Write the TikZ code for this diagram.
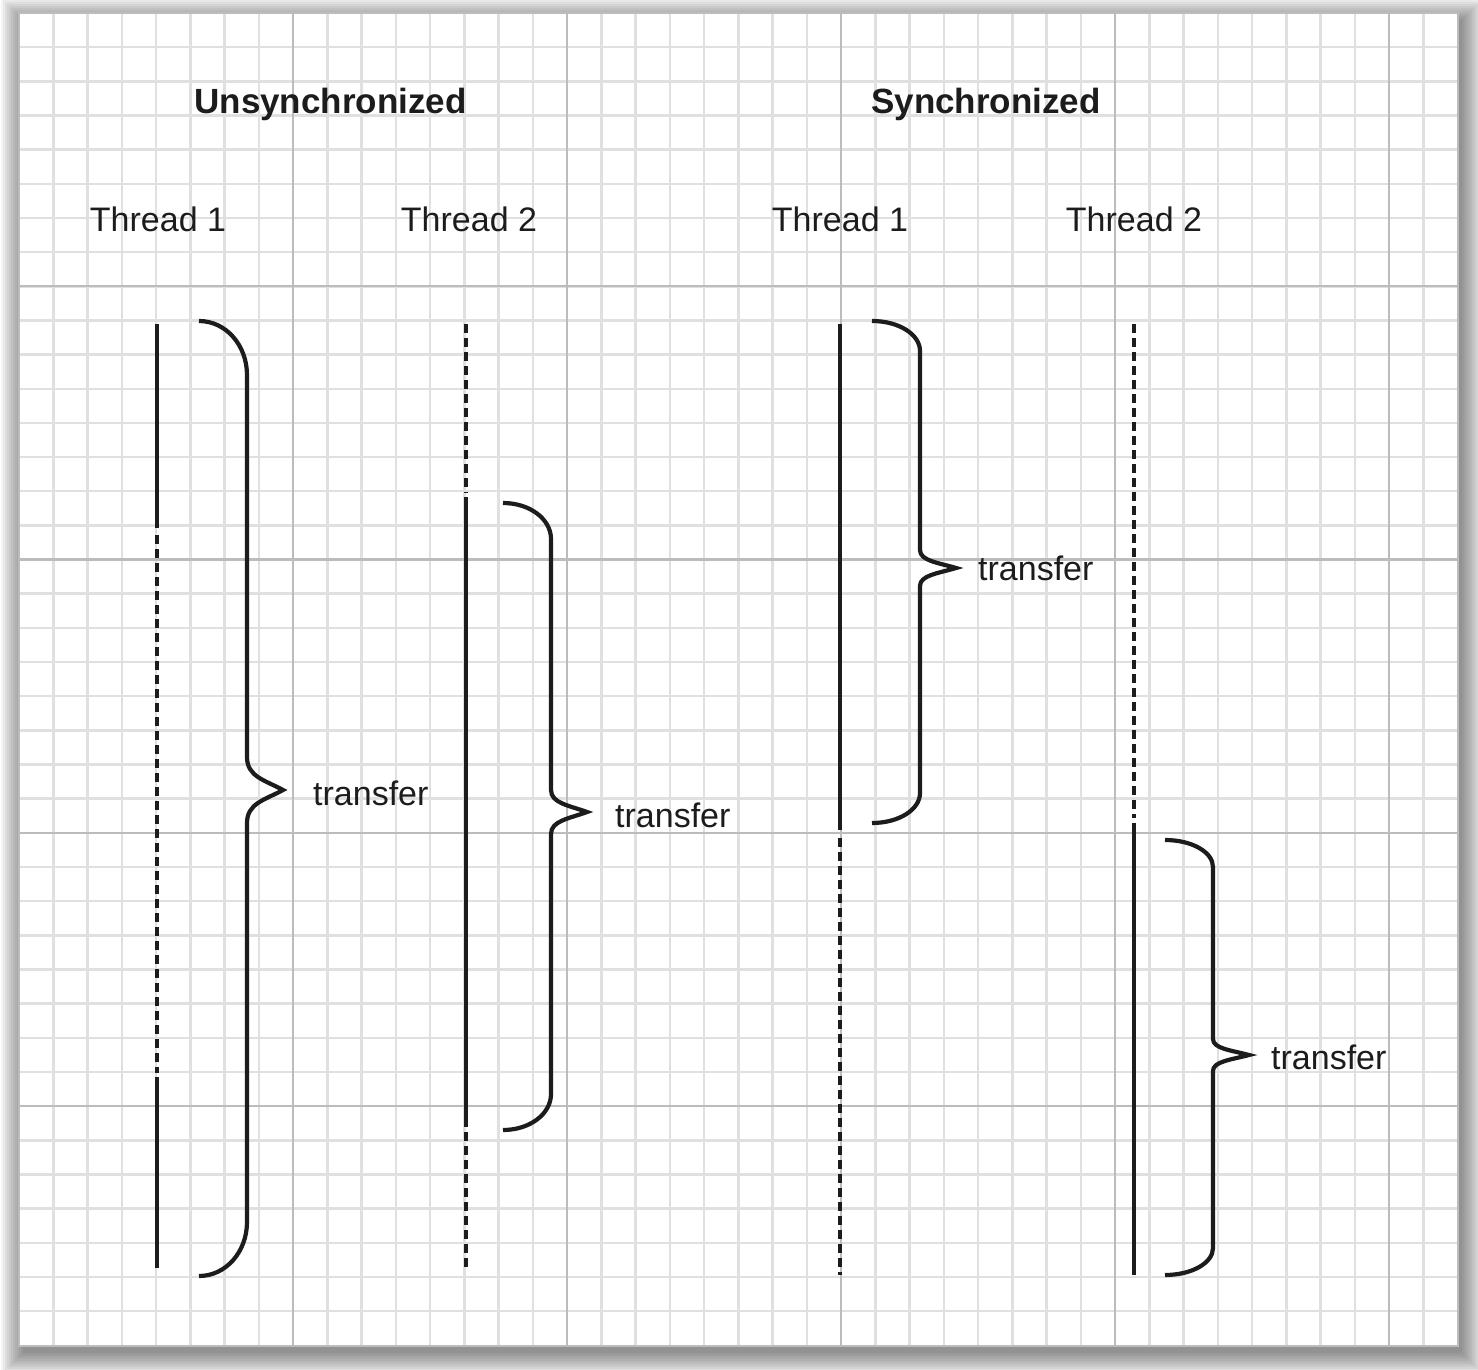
\documentclass[tikz,border=0pt]{standalone}
\usepackage{fontspec}
\setmainfont{Liberation Sans}
\definecolor{ink}{HTML}{1C1C1C}
\definecolor{minorgrid}{HTML}{E0E0E0}
\definecolor{majorgrid}{HTML}{BCBCBC}
\newcommand{\tbrace}[6]{%
  \draw[bracestyle] (#1,#2) .. controls ({#1+27},#2) and ({#1+48},{#2+0.45*#5}) .. ({#1+48},{#2+#5})
    -- ({#1+48},{#4-#6}) .. controls ({#1+48},{#4-0.4*#6}) and ({#1+66},{#4-0.3*#6}) .. ({#1+84},#4)
    .. controls ({#1+66},{#4+0.3*#6}) and ({#1+48},{#4+0.4*#6}) .. ({#1+48},{#4+#6})
    -- ({#1+48},{#3-#5}) .. controls ({#1+48},{#3-0.45*#5}) and ({#1+27},#3) .. (#1,#3);}
\begin{document}
\begin{tikzpicture}[x=1pt,y=-1pt,
  minorline/.style={draw=minorgrid,line width=2.5},
  majorline/.style={draw=majorgrid,line width=2.2},
  thread/.style={draw=ink,line width=4.2},
  dashline/.style={draw=ink,line width=4.2,dash pattern=on 9pt off 5pt},
  bracestyle/.style={draw=ink,line width=4.2,line join=miter,miter limit=20},
  lbl/.style={inner sep=0,text=ink,font=\fontsize{34}{40}\selectfont},
  head/.style={inner sep=0,text=ink,font=\fontsize{35}{42}\selectfont\bfseries}]
\useasboundingbox (0,0) rectangle (1478,1370);
\fill[white] (0,0) rectangle (1478,1370);
% shadow
\foreach \r in {0,2,...,22}
  \fill[black,opacity=0.045] ({19+4-\r},{13+7-\r}) rectangle ({1458+4+\r},{1346+7+\r});
\fill[white] (19,13) rectangle (1458,1346);
% grid
\foreach \i in {1,...,41}
  \draw[minorline] ({19+\i*34.25},13) -- ({19+\i*34.25},1346);
\foreach \j in {1,...,38}
  \draw[minorline] (19,{13+\j*34.16}) -- (1458,{13+\j*34.16});
\foreach \i in {8,16,24,32,40}
  \draw[majorline] ({19+\i*34.25},13) -- ({19+\i*34.25},1346);
\foreach \j in {8,16,24,32}
  \draw[majorline] (19,{13+\j*34.16}) -- (1458,{13+\j*34.16});
\draw[majorline] (19,13) rectangle (1458,1346);
% headings
\node[head,anchor=base] (hu) at (330.5,114) {Unsynchronized};
\node[head,anchor=base] (hs) at (986,114) {Synchronized};
\node[lbl,anchor=base] (ut1) at (158,231) {Thread 1};
\node[lbl,anchor=base] (ut2) at (469,231) {Thread 2};
\node[lbl,anchor=base] (st1) at (840,231) {Thread 1};
\node[lbl,anchor=base] (st2) at (1134,231) {Thread 2};
% unsynchronized thread 1
\coordinate (a1) at (157,324); \coordinate (a2) at (157,528);
\coordinate (a3) at (157,535); \coordinate (a4) at (157,1073);
\coordinate (a5) at (157,1077); \coordinate (a6) at (157,1268);
\draw[thread] (a1) -- (a2);
\draw[dashline] (a3) -- (a4);
\draw[thread] (a5) -- (a6);
% unsynchronized thread 2
\coordinate (b1) at (466,324); \coordinate (b2) at (466,493);
\coordinate (b3) at (466,497); \coordinate (b4) at (466,1127);
\coordinate (b5) at (466,1132); \coordinate (b6) at (466,1268);
\draw[dashline] (b1) -- (b2);
\draw[thread] (b3) -- (b4);
\draw[dashline] (b5) -- (b6);
% synchronized thread 1
\coordinate (c1) at (840,324); \coordinate (c2) at (840,830);
\coordinate (c3) at (840,838); \coordinate (c4) at (840,1275);
\draw[thread] (c1) -- (c2);
\draw[dashline] (c3) -- (c4);
% synchronized thread 2
\coordinate (d1) at (1134,324); \coordinate (d2) at (1134,818);
\coordinate (d3) at (1134,823); \coordinate (d4) at (1134,1275);
\draw[dashline] (d1) -- (d2);
\draw[thread] (d3) -- (d4);
% braces
\tbrace{199}{321}{1276}{790}{54}{33}
\tbrace{503}{503}{1130}{812}{36}{22}
\tbrace{872}{321}{823}{568}{30}{18}
\tbrace{1165}{840}{1275}{1055}{27}{16}
% labels
\node[lbl,anchor=base west] (tr1) at (313,805) {transfer};
\node[lbl,anchor=base west] (tr2) at (615,827) {transfer};
\node[lbl,anchor=base west] (tr3) at (978,580) {transfer};
\node[lbl,anchor=base west] (tr4) at (1271,1069) {transfer};
\end{tikzpicture}
\end{document}
